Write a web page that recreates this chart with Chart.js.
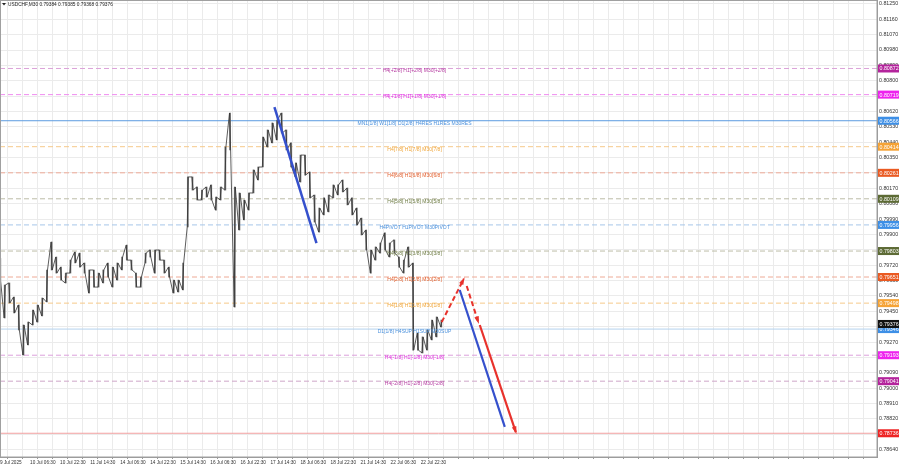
<!DOCTYPE html>
<html>
<head>
<meta charset="utf-8">
<script src="https://cdn.jsdelivr.net/npm/chart.js@4.4.1/dist/chart.umd.min.js"></script>
<style>
  html, body { margin: 0; padding: 0; background: #fff; }
  canvas { display: block; }
</style>
</head>
<body>
<canvas id="chart" width="899" height="467"></canvas>
<script>
// USDCHF M30, one step on the time axis = 5 bars (2.5 hours)
const symbol = 'USDCHF,M30';
const ohlc = [0.79384, 0.79385, 0.79368, 0.79376];

const highs = [
  0.79762, 0.79604, 0.79616, 0.79534, 0.79487, 0.79370, 0.79387, 0.79458, 0.79487, 0.79528,
  0.79692, 0.79856, 0.79768, 0.79709, 0.79674, 0.79750, 0.79797, 0.79791, 0.79733, 0.79692,
  0.79692, 0.79674, 0.79692, 0.79733, 0.79709, 0.79733, 0.79768, 0.79838, 0.79750, 0.79674,
  0.79651, 0.79791, 0.79809, 0.79809, 0.79809, 0.79750, 0.79709, 0.79633, 0.79633, 0.79733,
  0.80237, 0.80237, 0.80178, 0.80160, 0.80178, 0.80190, 0.80119, 0.80178, 0.80412, 0.80611,
  0.80178, 0.80143, 0.80102, 0.80143, 0.80278, 0.80295, 0.80471, 0.80512, 0.80553, 0.80570,
  0.80611, 0.80512, 0.80436, 0.80319, 0.80365, 0.80365, 0.80266, 0.80131, 0.80055, 0.80114,
  0.80131, 0.80190, 0.80190, 0.80219, 0.80172, 0.80114, 0.80055, 0.79996, 0.79926, 0.79809,
  0.79827, 0.79850, 0.79909, 0.79850, 0.79868, 0.79768, 0.79750, 0.79827, 0.79733, 0.79323,
  0.79300, 0.79341, 0.79399, 0.79417, 0.79399
];
const lows = [
  0.79633, 0.79411, 0.79499, 0.79440, 0.79341, 0.79194, 0.79253, 0.79370, 0.79387, 0.79423,
  0.79505, 0.79692, 0.79674, 0.79633, 0.79616, 0.79674, 0.79733, 0.79709, 0.79674, 0.79557,
  0.79592, 0.79592, 0.79616, 0.79651, 0.79592, 0.79633, 0.79692, 0.79750, 0.79692, 0.79592,
  0.79592, 0.79733, 0.79768, 0.79674, 0.79750, 0.79674, 0.79651, 0.79557, 0.79563, 0.79575,
  0.79944, 0.80160, 0.80102, 0.80102, 0.80119, 0.80102, 0.80043, 0.80102, 0.80160, 0.80395,
  0.79475, 0.79926, 0.79985, 0.80043, 0.80143, 0.80219, 0.80295, 0.80412, 0.80436, 0.80453,
  0.80494, 0.80395, 0.80295, 0.80237, 0.80207, 0.80248, 0.80114, 0.79973, 0.79914, 0.80014,
  0.80032, 0.80114, 0.80131, 0.80149, 0.80073, 0.80014, 0.79955, 0.79897, 0.79809, 0.79674,
  0.79750, 0.79791, 0.79809, 0.79768, 0.79791, 0.79709, 0.79674, 0.79709, 0.79223, 0.79223,
  0.79206, 0.79223, 0.79282, 0.79300, 0.79358
];

const priceTicks = [
  0.81250, 0.81160, 0.81070, 0.80980, 0.80890, 0.80800, 0.80710, 0.80620, 0.80530, 0.80440,
  0.80350, 0.80260, 0.80170, 0.80080, 0.79990, 0.79900, 0.79810, 0.79720, 0.79630, 0.79540,
  0.79450, 0.79360, 0.79270, 0.79180, 0.79090, 0.79000, 0.78910, 0.78820, 0.78730, 0.78640
];
const timeLabels = [
  '9 Jul 2025', '10 Jul 06:30', '10 Jul 22:30', '11 Jul 14:30', '14 Jul 06:30',
  '14 Jul 22:30', '15 Jul 14:30', '16 Jul 06:30', '16 Jul 22:30', '17 Jul 14:30',
  '18 Jul 06:30', '18 Jul 22:30', '21 Jul 14:30', '22 Jul 06:30', '22 Jul 22:30'
];

const levelNames = [
  'H4[+2/8] H1[+2/8] M30[+2/8]', 'H4[+1/8] H1[+1/8] M30[+1/8]',
  'MN1[1/8] W1[1/8] D1[2/8] H4RES H1RES M30RES',
  'H4[7/8] H1[7/8] M30[7/8]', 'H4[6/8] H1[6/8] M30[6/8]', 'H4[5/8] H1[5/8] M30[5/8]',
  'H4PIVOT H1PIVOT M30PIVOT',
  'H4[3/8] H1[3/8] M30[3/8]', 'H4[2/8] H1[2/8] M30[2/8]', 'H4[1/8] H1[1/8] M30[1/8]',
  'D1[1/8] H4SUP H1SUP M30SUP',
  'H4[-1/8] H1[-1/8] M30[-1/8]', 'H4[-2/8] H1[-2/8] M30[-2/8]'
];
const levelPrices = [
  0.80872, 0.80719, 0.80566, 0.80414, 0.80261, 0.80109, 0.79956,
  0.79803, 0.79651, 0.79498, 0.79346, 0.79193, 0.79041
];
const targetPrice = 0.78736;

// forecast arrows: time step, price
const trendBlue = [{ x: 58.45, y: 0.80646 }, { x: 67.41, y: 0.79850 }];
const fcUp = [{ x: 94.08, y: 0.79387 }, { x: 98.77, y: 0.79639 }];
const fcPull = [{ x: 99.41, y: 0.79598 }, { x: 101.87, y: 0.79387 }];
const fcDown = [{ x: 102.19, y: 0.79370 }, { x: 109.87, y: 0.78743 }];
const fcBlue = [{ x: 97.92, y: 0.79575 }, { x: 107.52, y: 0.78773 }];

// styles
const FONT = "'Liberation Sans', Arial, sans-serif";
const X_MAX = 186.8;
const LABEL_AT = 88.3;
const lineCol = ['#dba2d8', '#f08cf0', '#5b9be0', '#f6c98a', '#eeaa96', '#bdbda8', '#a6c6ea',
                 '#bdbda8', '#eeaa96', '#f6c98a', '#b4d2ee', '#dca0dc', '#cfa6c8'];
const textCol = ['#b53aa0', '#e22ee0', '#4a90dc', '#f0a63a', '#e2602e', '#6f7d45', '#4a90dc',
                 '#6f7d45', '#e2602e', '#f0a63a', '#4a90dc', '#e22ee0', '#b53aa0'];
const tagCol = ['#b4249c', '#ee22ee', '#3d8fe6', '#f5a336', '#ea5a22', '#5d6b35', '#3d8fe6',
                '#5d6b35', '#ea5a22', '#f5a336', '#3d8fe6', '#ee22ee', '#b4249c'];
const solidLevels = [2, 10];

// scribble through each step's range, low or high first depending on direction
const path = [];
highs.forEach((h, i) => {
  const l = lows[i];
  const rising = i + 1 < highs.length ? highs[i + 1] + lows[i + 1] > h + l : true;
  if (rising) {
    path.push({ x: i - 0.12, y: l }, { x: i + 0.12, y: h });
  } else {
    path.push({ x: i - 0.12, y: h }, { x: i + 0.12, y: l });
  }
});

const datasets = [];
levelPrices.forEach((p, i) => {
  datasets.push({
    type: 'line', data: [{ x: 0, y: p }, { x: X_MAX, y: p }],
    borderColor: lineCol[i], borderWidth: 1,
    borderDash: solidLevels.includes(i) ? [] : [5, 3],
    pointRadius: 0, order: 5
  });
});
datasets.push({
  type: 'line', data: [{ x: 0, y: targetPrice }, { x: X_MAX, y: targetPrice }],
  borderColor: '#f2a0a0', borderWidth: 1, pointRadius: 0, order: 5
});
datasets.push({
  type: 'bar', data: highs.map((h, i) => ({ x: i, y: [lows[i], h] })),
  backgroundColor: '#666', barThickness: 1, order: 3
});
datasets.push({
  type: 'line', data: path, borderColor: '#333', borderWidth: 0.8,
  pointRadius: 0, tension: 0, order: 2
});
datasets.push({ type: 'line', data: trendBlue, borderColor: '#3550cc', borderWidth: 2.5, pointRadius: 0, order: 1 });
datasets.push({ type: 'line', data: fcBlue, borderColor: '#3550cc', borderWidth: 2.2, pointRadius: 0, order: 1 });
datasets.push({ type: 'line', data: fcUp, borderColor: '#e8322c', borderWidth: 2, borderDash: [5, 3], pointRadius: 0, order: 1, arrow: true });
datasets.push({ type: 'line', data: fcPull, borderColor: '#e8322c', borderWidth: 2, borderDash: [5, 3], pointRadius: 0, order: 1, arrow: true });
datasets.push({ type: 'line', data: fcDown, borderColor: '#e8322c', borderWidth: 2.2, pointRadius: 0, order: 1, arrow: true });

const overlay = {
  id: 'overlay',
  afterDatasetsDraw(chart) {
    const ctx = chart.ctx;
    const xs = chart.scales.x, ys = chart.scales.y;
    ctx.save();
    // arrow heads
    chart.data.datasets.forEach((ds, di) => {
      if (!ds.arrow) return;
      const pts = chart.getDatasetMeta(di).data;
      const a = pts[pts.length - 2], b = pts[pts.length - 1];
      const ang = Math.atan2(b.y - a.y, b.x - a.x);
      ctx.fillStyle = ds.borderColor;
      ctx.beginPath();
      ctx.moveTo(b.x + Math.cos(ang) * 2, b.y + Math.sin(ang) * 2);
      ctx.lineTo(b.x - Math.cos(ang - 0.4) * 6, b.y - Math.sin(ang - 0.4) * 6);
      ctx.lineTo(b.x - Math.cos(ang + 0.4) * 6, b.y - Math.sin(ang + 0.4) * 6);
      ctx.closePath();
      ctx.fill();
    });
    // level captions
    ctx.font = '5px ' + FONT;
    ctx.textAlign = 'center';
    ctx.textBaseline = 'middle';
    const cx = xs.getPixelForValue(LABEL_AT);
    levelNames.forEach((t, i) => {
      ctx.fillStyle = textCol[i];
      ctx.fillText(t, cx, ys.getPixelForValue(levelPrices[i]) + 2.5);
    });
    ctx.restore();
  },
  afterDraw(chart) {
    const ctx = chart.ctx;
    const ys = chart.scales.y;
    const area = chart.chartArea;
    ctx.save();
    // frame
    ctx.strokeStyle = '#a0a0a0';
    ctx.lineWidth = 1;
    ctx.strokeRect(0.5, 0.5, area.right - 0.5, area.bottom - 0.5);
    // price tags on the axis
    ctx.font = '5.3px ' + FONT;
    ctx.textAlign = 'left';
    ctx.textBaseline = 'middle';
    const tag = (p, bg, fg) => {
      const y = ys.getPixelForValue(p);
      ctx.fillStyle = bg;
      ctx.fillRect(area.right + 1, y - 4, 22, 8);
      ctx.fillStyle = fg;
      ctx.fillText(p.toFixed(5), area.right + 2.5, y + 0.5);
    };
    levelPrices.forEach((p, i) => tag(p, tagCol[i], '#ffffff'));
    tag(targetPrice, '#ee2424', '#ffffff');
    tag(ohlc[3], '#111111', '#ffffff');
    // header
    ctx.fillStyle = '#222';
    ctx.beginPath();
    ctx.moveTo(2, 3); ctx.lineTo(6, 3); ctx.lineTo(4, 5.5); ctx.closePath();
    ctx.fill();
    ctx.font = '4.8px ' + FONT;
    ctx.fillText(symbol + ' ' + ohlc.map(v => v.toFixed(5)).join(' '), 8, 4.5);
    ctx.restore();
  }
};

new Chart(document.getElementById('chart'), {
  type: 'bar',
  data: { datasets: datasets },
  options: {
    responsive: false,
    animation: false,
    devicePixelRatio: 1,
    layout: { padding: 0 },
    plugins: { legend: { display: false }, tooltip: { enabled: false } },
    scales: {
      x: {
        type: 'linear', min: 0, max: X_MAX, offset: false,
        afterBuildTicks: s => {
          const t = [];
          for (let v = 0; v <= X_MAX; v += 3.2) t.push({ value: v });
          s.ticks = t;
        },
        afterFit: s => { s.height = 10; s.paddingLeft = 0; s.paddingRight = 0; },
        ticks: {
          autoSkip: false, maxRotation: 0, align: 'start', padding: 1,
          color: '#333', font: { size: 4.7, family: FONT },
          callback: (v, i) => (i % 2 === 0 && timeLabels[i / 2]) ? timeLabels[i / 2] : ''
        },
        grid: { color: '#ebebeb', tickLength: 2, tickColor: '#999' },
        border: { color: '#999' }
      },
      y: {
        type: 'linear', position: 'right', min: 0.78597, max: 0.81273,
        afterBuildTicks: s => { s.ticks = priceTicks.map(v => ({ value: v })); },
        afterFit: s => { s.width = 22; s.paddingTop = 0; s.paddingBottom = 0; },
        ticks: {
          padding: 2, color: '#333', font: { size: 5.3, family: FONT },
          callback: v => v.toFixed(5)
        },
        grid: { color: '#ebebeb', drawTicks: false },
        border: { color: '#999' }
      }
    }
  },
  plugins: [overlay]
});
</script>
</body>
</html>
